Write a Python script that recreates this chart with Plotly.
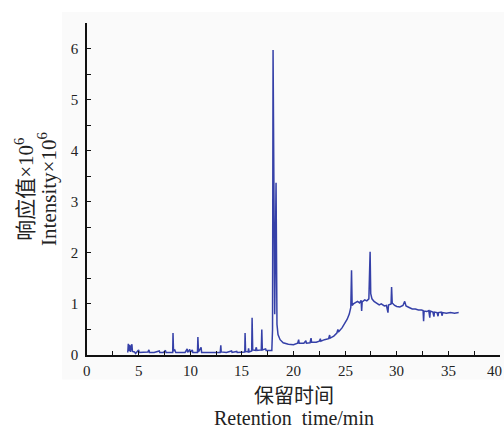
import plotly.graph_objects as go

# Retention time (min) and intensity (x10^6)
time_min = [
    3.95, 4.0, 4.05, 4.15, 4.2, 4.35, 4.4, 4.6, 4.7, 4.8, 5.0, 5.05, 5.4, 5.5, 5.9, 6.0, 6.05,
    6.5, 6.8, 7.0, 7.05, 7.4, 7.6, 7.65, 8.0, 8.3, 8.33, 8.38, 8.5, 8.6, 9.0, 9.5, 9.7, 9.75,
    9.95, 10.0, 10.2, 10.25, 10.7, 10.74, 10.8, 11.05, 11.1, 11.5, 12.0, 12.5, 12.9, 12.96, 13.0,
    13.5, 14.0, 14.05, 14.5, 14.55, 15.0, 15.28, 15.31, 15.36, 15.6, 15.65, 15.7, 15.95, 15.99,
    16.05, 16.3, 16.4, 16.45, 16.88, 16.93, 16.98, 17.3, 17.35, 17.9, 17.97, 18.02, 18.1, 18.18,
    18.31, 18.4, 18.5, 18.7, 19.0, 19.5, 20.0, 20.4, 20.5, 20.55, 21.0, 21.2, 21.25, 21.6, 21.7,
    21.75, 22.2, 22.5, 22.6, 22.65, 23.0, 23.4, 23.5, 23.55, 23.9, 24.2, 24.3, 24.35, 24.7, 25.0,
    25.2, 25.4, 25.55, 25.62, 25.68, 25.8, 26.0, 26.2, 26.4, 26.55, 26.6, 26.65, 26.9, 27.1, 27.3,
    27.42, 27.48, 27.6, 27.8, 28.0, 28.3, 28.5, 28.8, 29.0, 29.15, 29.2, 29.45, 29.5, 29.56, 29.8,
    30.0, 30.3, 30.6, 30.77, 30.9, 31.2, 31.5, 31.8, 32.1, 32.4, 32.55, 32.6, 32.65, 32.9, 33.1,
    33.2, 33.25, 33.5, 33.6, 33.65, 33.9, 34.0, 34.05, 34.3, 34.4, 34.45, 34.8, 35.2, 35.6, 36.0,
]
intensity = [
    0.05, 0.22, 0.08, 0.20, 0.06, 0.21, 0.07, 0.06, 0.03, 0.06, 0.10, 0.05, 0.06, 0.05, 0.06, 0.10, 0.05,
    0.05, 0.06, 0.08, 0.05, 0.05, 0.09, 0.05, 0.05, 0.05, 0.43, 0.08, 0.10, 0.05, 0.05, 0.05, 0.12, 0.05,
    0.11, 0.05, 0.10, 0.05, 0.05, 0.35, 0.06, 0.15, 0.05, 0.05, 0.05, 0.05, 0.05, 0.19, 0.06,
    0.05, 0.08, 0.05, 0.07, 0.05, 0.05, 0.06, 0.43, 0.07, 0.06, 0.13, 0.06, 0.08, 0.73,
    0.10, 0.09, 0.15, 0.09, 0.10, 0.50, 0.10, 0.12, 0.09, 0.09, 0.50, 5.97, 1.60, 0.80,
    3.37, 0.60, 0.40, 0.30, 0.24, 0.21, 0.20, 0.23, 0.30, 0.23, 0.23, 0.28, 0.23, 0.24, 0.33,
    0.25, 0.25, 0.27, 0.32, 0.27, 0.30, 0.32, 0.39, 0.33, 0.37, 0.43, 0.50, 0.45, 0.53, 0.62,
    0.70, 0.80, 0.93, 1.66, 0.97, 1.00, 1.03, 1.05, 1.02, 1.07, 0.86, 1.04, 1.08, 1.06, 1.10,
    2.02, 1.20, 1.10, 1.05, 1.02, 0.98, 1.00, 0.96, 0.97, 0.83, 0.98, 1.00, 1.33, 1.02, 0.97,
    0.95, 0.94, 0.97, 1.05, 0.96, 0.93, 0.90, 0.90, 0.88, 0.88, 0.87, 0.66, 0.86, 0.85, 0.87,
    0.73, 0.86, 0.84, 0.75, 0.84, 0.83, 0.76, 0.83, 0.84, 0.77, 0.83, 0.82, 0.83, 0.82, 0.83,
]

x_ticks = [0, 5, 10, 15, 20, 25, 30, 35, 40]
y_ticks = [0, 1, 2, 3, 4, 5, 6]

serif = "Liberation Serif, Times New Roman, serif"
cjk = "Noto Sans CJK SC"
txt = "#222"

fig = go.Figure()
fig.add_trace(go.Scatter(
    x=time_min, y=intensity, mode="lines",
    line=dict(color="#3540a8", width=1.5),
    hoverinfo="skip", showlegend=False,
))

annotations = [
    dict(text="响应值×10<sup>6</sup>", xref="paper", yref="paper",
         x=-0.153, y=0.5, xanchor="center", yanchor="middle", textangle=-90,
         showarrow=False, font=dict(family=serif + ", " + cjk, size=21, color=txt)),
    dict(text="Intensity×10<sup>6</sup>", xref="paper", yref="paper",
         x=-0.097, y=0.5, xanchor="center", yanchor="middle", textangle=-90,
         showarrow=False, font=dict(family=serif, size=21, color=txt)),
    dict(text="保留时间", xref="paper", yref="paper",
         x=0.5, y=-0.12, xanchor="center", yanchor="middle",
         showarrow=False, font=dict(family=cjk, size=20, color=txt)),
    dict(text="Retention  time/min", xref="paper", yref="paper",
         x=0.5, y=-0.19, xanchor="center", yanchor="middle",
         showarrow=False, font=dict(family=serif, size=20, color=txt)),
]
# x tick labels as annotations so the last one ("40") stays visible at the right edge
for v in x_ticks:
    last = v == x_ticks[-1]
    annotations.append(dict(
        text=str(v), x=1.0097 if last else v, xref="paper" if last else "x",
        y=-0.047, yref="paper",
        xanchor="right" if last else "center", yanchor="middle", showarrow=False,
        font=dict(family=serif, size=15, color=txt)))

fig.update_layout(
    width=504, height=428,
    margin=dict(l=87, r=4, t=23, b=73),
    paper_bgcolor="white", plot_bgcolor="rgba(0,0,0,0)",
    font=dict(family=serif, color=txt),
    shapes=[dict(type="rect", xref="paper", yref="paper",
                 x0=-0.0605, x1=1.01, y0=-0.074, y1=1.033,
                 fillcolor="#fafafa", line=dict(width=0), layer="below")],
    annotations=annotations,
)

fig.update_xaxes(
    range=[0, 40], tickvals=x_ticks, showticklabels=False,
    showgrid=False, zeroline=False, showline=True, linecolor="#111", linewidth=1.5,
    ticks="inside", ticklen=4, tickwidth=1.3, tickcolor="#111",
    minor=dict(dtick=2.5, tick0=0, ticks="inside", ticklen=4, tickwidth=1.3, tickcolor="#111"),
)
fig.update_yaxes(
    range=[0, 6.5], tickvals=y_ticks, ticktext=[str(v) for v in y_ticks],
    showgrid=False, zeroline=False, showline=True, linecolor="#111", linewidth=1.5,
    ticks="inside", ticklen=4, tickwidth=1.3, tickcolor="#111",
    minor=dict(dtick=0.5, tick0=0, ticks="inside", ticklen=4, tickwidth=1.3, tickcolor="#111"),
    tickfont=dict(family=serif, size=15, color=txt), ticklabelstandoff=4,
)

fig.write_html("out.html")
